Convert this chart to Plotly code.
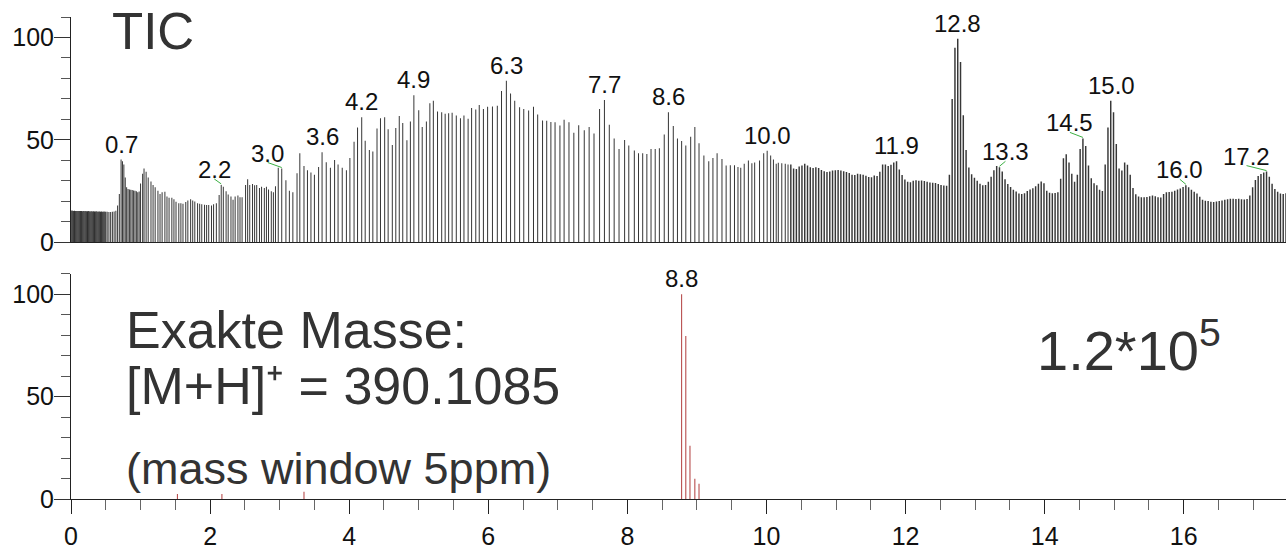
import plotly.graph_objects as go

FONT = "Liberation Sans, Arial, sans-serif"

# ---------------- TIC data (retention time [min], relative intensity [%]) ----------------
tic_t_a = [0.0, 0.0125, 0.025, 0.0375, 0.05, 0.0625, 0.075, 0.0875, 0.1, 0.1125,
           0.125, 0.1375, 0.15, 0.1625, 0.175, 0.1875, 0.2, 0.2125, 0.225, 0.2375,
           0.25, 0.2625, 0.275, 0.2875, 0.3, 0.3125, 0.325, 0.3375, 0.35, 0.3625,
           0.375, 0.3875, 0.4, 0.4125, 0.425, 0.4375, 0.45, 0.4625, 0.475, 0.4875,
           0.5]
tic_i_a = [15.4, 15.5, 15.4, 15.3, 15.4, 15.3, 15.3, 15.2, 15.3, 15.2,
           15.3, 15.2, 15.2, 15.1, 15.2, 15.2, 15.1, 15.2, 15.1, 15.1,
           15.2, 15.1, 15.0, 15.1, 15.1, 15.0, 15.1, 15.0, 15.0, 15.1,
           15.0, 14.9, 15.0, 15.0, 14.9, 15.0, 14.9, 14.9, 15.0, 14.9,
           14.9]

tic_t_b = [0.52, 0.545, 0.57, 0.595, 0.62, 0.645, 0.67, 0.695, 0.72, 0.74,
           0.76, 0.78, 0.80, 0.82, 0.84, 0.86, 0.88, 0.90, 0.92, 0.94,
           0.96, 0.98, 1.00, 1.03, 1.05, 1.08, 1.11, 1.15, 1.18, 1.21,
           1.25, 1.28, 1.31, 1.35, 1.38, 1.41, 1.45, 1.48, 1.51, 1.55,
           1.58, 1.61, 1.65, 1.68, 1.72, 1.75, 1.78, 1.82, 1.85, 1.88,
           1.92, 1.95, 1.98, 2.02, 2.05, 2.09, 2.13, 2.16, 2.19, 2.23,
           2.26, 2.30, 2.33, 2.36, 2.40, 2.43, 2.46, 2.51, 2.54, 2.57,
           2.61, 2.64, 2.67, 2.71, 2.74, 2.78, 2.81, 2.84, 2.88, 2.91,
           2.94]
tic_i_b = [14.9, 14.8, 14.8, 14.9, 15.0, 15.4, 18.0, 23.6, 40.4, 39.6,
           38.0, 31.6, 26.8, 26.0, 25.8, 25.6, 25.5, 25.3, 25.2, 24.9,
           24.4, 24.8, 28.7, 33.5, 36.0, 34.4, 31.6, 29.7, 28.0, 26.8,
           25.2, 23.6, 24.4, 24.7, 22.3, 21.7, 21.7, 21.0, 19.8, 19.1,
           19.1, 18.8, 19.6, 20.4, 21.0, 20.4, 19.9, 19.1, 18.8, 18.5,
           18.3, 18.2, 18.2, 18.0, 18.5, 19.1, 23.1, 28.0, 27.1, 24.9,
           23.3, 22.3, 20.7, 22.3, 22.8, 22.0, 22.0, 28.0, 30.8, 28.0,
           28.4, 27.8, 28.0, 26.5, 27.1, 26.5, 27.1, 25.8, 24.9, 24.4,
           27.4]

tic_t_c = [2.98, 3.03, 3.09, 3.14, 3.19, 3.25, 3.29, 3.35, 3.40, 3.45,
           3.50, 3.56, 3.61, 3.67, 3.73, 3.79, 3.84, 3.90, 3.96, 4.01,
           4.07, 4.12, 4.18, 4.23, 4.29, 4.34, 4.40, 4.45, 4.51, 4.56,
           4.62, 4.67, 4.72, 4.77, 4.83, 4.88, 4.93, 5.00, 5.05, 5.11,
           5.16, 5.21, 5.27, 5.33, 5.38, 5.43, 5.48, 5.54, 5.60, 5.65,
           5.71, 5.76, 5.82, 5.87, 5.93, 5.99, 6.06, 6.13, 6.19, 6.26,
           6.32, 6.38, 6.45, 6.51, 6.58, 6.65, 6.71, 6.78, 6.84, 6.90,
           6.96, 7.03, 7.09, 7.16, 7.23, 7.30, 7.38, 7.45, 7.52, 7.60,
           7.67, 7.74, 7.81, 7.88, 7.96, 8.02, 8.10, 8.16, 8.22, 8.28,
           8.34, 8.40, 8.46, 8.53, 8.59, 8.66, 8.72, 8.78, 8.84, 8.91,
           8.97, 9.03, 9.10, 9.17, 9.23, 9.29, 9.36, 9.42, 9.48, 9.54,
           9.59, 9.63, 9.68, 9.74, 9.79, 9.83, 9.90, 9.96, 10.01, 10.06,
           10.10, 10.14, 10.17, 10.22, 10.27, 10.31]
tic_i_c = [36.4, 36.0, 30.3, 25.2, 24.4, 33.7, 43.5, 37.2, 35.2, 34.0,
           32.9, 36.8, 43.9, 39.1, 36.4, 40.2, 38.0, 36.4, 35.1, 41.1,
           49.1, 56.0, 61.1, 49.6, 45.1, 44.3, 55.5, 60.6, 61.1, 55.2,
           47.5, 55.8, 61.6, 58.2, 49.8, 59.0, 71.8, 64.4, 56.3, 59.0,
           67.9, 69.1, 63.8, 63.5, 62.7, 63.0, 63.2, 61.9, 60.6, 61.9,
           60.3, 65.6, 64.8, 67.0, 65.1, 66.2, 66.3, 66.7, 73.8, 78.9,
           72.6, 69.1, 65.9, 65.1, 64.3, 66.2, 62.4, 59.5, 59.3, 58.7,
           58.6, 57.0, 59.8, 58.6, 53.5, 57.1, 54.7, 56.3, 53.1, 65.1,
           69.5, 57.4, 50.7, 45.5, 49.9, 47.2, 44.8, 43.4, 43.5, 43.1,
           45.5, 45.5, 45.9, 52.6, 63.5, 56.8, 50.7, 49.4, 47.2, 51.5,
           56.3, 48.3, 42.4, 39.6, 41.1, 43.5, 40.7, 37.5, 37.6, 37.6,
           36.7, 36.4, 38.3, 39.9, 38.6, 38.9, 39.9, 43.5, 44.7, 42.4,
           40.4, 38.3, 38.8, 38.6, 38.3, 38.0]

tic_t_d = [10.35, 10.39, 10.43, 10.47, 10.51, 10.55, 10.59, 10.63, 10.67, 10.71,
           10.75, 10.79, 10.83, 10.87, 10.91, 10.95, 10.99, 11.03, 11.07, 11.11,
           11.15, 11.19, 11.23, 11.27, 11.31, 11.35, 11.39, 11.43, 11.47, 11.51,
           11.55, 11.59, 11.63, 11.67, 11.71, 11.75, 11.79, 11.83, 11.87, 11.91,
           11.95, 11.99, 12.03, 12.07, 12.11, 12.15, 12.19, 12.23, 12.27, 12.31,
           12.35, 12.39, 12.43, 12.47, 12.51, 12.55, 12.59, 12.63, 12.67, 12.71,
           12.75, 12.79, 12.83, 12.87, 12.91, 12.95, 12.99, 13.03, 13.07, 13.11,
           13.15, 13.19, 13.23, 13.27, 13.31, 13.35, 13.39, 13.43, 13.47, 13.51,
           13.55, 13.59, 13.63, 13.67, 13.71, 13.75, 13.79, 13.83, 13.87, 13.91,
           13.95, 13.99, 14.03, 14.07, 14.11, 14.15, 14.19, 14.23, 14.27, 14.31,
           14.35, 14.39, 14.43, 14.47, 14.51, 14.55, 14.59, 14.63, 14.67, 14.71,
           14.75, 14.79, 14.83, 14.87, 14.91, 14.95, 14.99, 15.03, 15.07, 15.11,
           15.15, 15.19, 15.23, 15.27, 15.31, 15.35, 15.39, 15.43, 15.47, 15.51,
           15.55, 15.59, 15.63, 15.67, 15.71, 15.75, 15.79, 15.83, 15.87, 15.91,
           15.95, 15.99, 16.03, 16.07, 16.11, 16.15, 16.19, 16.23, 16.27, 16.31,
           16.35, 16.39, 16.43, 16.47, 16.51, 16.55, 16.59, 16.63, 16.67, 16.71,
           16.75, 16.79, 16.83, 16.87, 16.91, 16.95, 16.99, 17.03, 17.07, 17.11,
           17.15, 17.19, 17.23, 17.27, 17.31, 17.35, 17.39, 17.43, 17.47]
tic_i_d = [38.0, 36.0, 35.8, 37.0, 37.5, 38.3, 37.5, 36.6, 36.2, 36.6,
           36.3, 35.3, 34.7, 34.3, 34.6, 35.0, 35.1, 35.3, 35.0, 34.7,
           34.3, 33.8, 33.0, 32.8, 33.4, 33.2, 32.9, 32.5, 31.8, 31.7,
           32.6, 32.3, 34.4, 38.0, 38.0, 37.2, 37.8, 39.0, 39.6, 35.5,
           32.8, 30.6, 29.5, 29.3, 30.0, 30.3, 30.0, 30.1, 29.9, 29.6,
           29.2, 29.0, 28.9, 28.5, 27.9, 27.7, 27.6, 33.0, 70.0, 95.0,
           99.4, 88.0, 62.0, 45.0, 36.5, 33.2, 31.5, 30.0, 28.6, 27.8,
           28.0, 29.5, 32.0, 35.2, 37.2, 36.6, 34.5, 30.8, 28.4, 27.0,
           25.6, 24.8, 23.8, 23.6, 23.9, 25.0, 25.8, 26.4, 27.4, 28.6,
           29.7, 28.8, 25.2, 24.2, 23.9, 24.1, 24.4, 31.0, 41.0, 43.0,
           39.0, 33.5, 29.5, 33.0, 45.5, 50.7, 47.0, 37.5, 31.2, 28.8,
           27.8, 25.6, 25.0, 38.0, 56.0, 69.1, 63.5, 48.0, 36.0, 35.0,
           39.0, 37.8, 33.0, 26.5, 23.4, 22.3, 22.0, 22.0, 22.1, 22.5,
           22.8, 22.4, 22.0, 21.8, 23.5, 24.4, 24.5, 24.7, 25.2, 25.8,
           26.3, 27.0, 27.8, 26.8, 25.6, 24.6, 23.8, 22.2, 20.8, 20.3,
           20.1, 19.8, 19.6, 19.9, 20.1, 20.4, 20.7, 21.0, 21.2, 21.2,
           21.1, 21.2, 21.0, 20.9, 21.1, 22.8, 26.8, 30.4, 32.4, 33.3,
           34.0, 34.5, 32.0, 28.6, 26.0, 24.6, 23.8, 23.6, 23.9]

# labelled TIC peaks
tic_label_t = [0.72, 2.16, 3.03, 3.61, 4.18, 4.93, 6.26, 7.67, 8.59, 10.01,
               11.87, 12.75, 13.35, 14.55, 14.95, 16.03, 17.19]
tic_label_text = ["0.7", "2.2", "3.0", "3.6", "4.2", "4.9", "6.3", "7.7", "8.6", "10.0",
                  "11.9", "12.8", "13.3", "14.5", "15.0", "16.0", "17.2"]

# ---------------- EIC data (m/z 390.1085, 5 ppm) ----------------
eic_t = [1.53, 2.17, 3.35, 8.78, 8.84, 8.90, 8.97, 9.03]
eic_i = [2.4, 2.4, 3.5, 100.0, 79.6, 26.0, 9.9, 7.5]
eic_label_t = [8.78]
eic_label_text = ["8.8"]

# ---------------- styles ----------------
label_xshift = [0, -7, -14, 0, 0, 0, 0, 0, 0, 0, 0, 0, 6, -13, 1, -6, -20]
label_leader = [0, 1, 1, 0, 0, 0, 0, 0, 0, 0, 0, 0, 1, 1, 0, 1, 1]
BAR_W = 0.0145        # ~1 px sticks
BAR_W_DENSE = 0.021   # late, densely sampled part looks heavier
X_MAX = 17.47

tic_t = tic_t_a + tic_t_b + tic_t_c + tic_t_d
tic_i = tic_i_a + tic_i_b + tic_i_c + tic_i_d


def lookup(ts, ys, t):
    k = min(range(len(ts)), key=lambda j: abs(ts[j] - t))
    return ys[k]


STICK = "rgba(20,20,20,0.85)"
fig = go.Figure()
fig.add_trace(go.Bar(x=tic_t_a + tic_t_b + tic_t_c, y=tic_i_a + tic_i_b + tic_i_c,
                     width=BAR_W, xaxis="x", yaxis="y",
                     marker=dict(color=STICK, line=dict(width=0)),
                     showlegend=False, hoverinfo="x+y"))
fig.add_trace(go.Bar(x=tic_t_d, y=tic_i_d, width=BAR_W_DENSE, xaxis="x", yaxis="y",
                     marker=dict(color=STICK, line=dict(width=0)),
                     showlegend=False, hoverinfo="x+y"))
fig.add_trace(go.Bar(x=eic_t, y=eic_i, width=BAR_W, xaxis="x2", yaxis="y2",
                     marker=dict(color="rgba(165,28,28,0.85)", line=dict(width=0)),
                     showlegend=False, hoverinfo="x+y"))

annotations = []
shapes = []
lab_font = dict(size=24, color="#111", family=FONT)
for t, txt, dx, lead in zip(tic_label_t, tic_label_text, label_xshift, label_leader):
    h = lookup(tic_t, tic_i, t)
    annotations.append(dict(x=t, y=h, xref="x", yref="y", text=txt, showarrow=False,
                            xanchor="center", yanchor="bottom", xshift=dx, yshift=0,
                            font=lab_font))
    if lead:
        shapes.append(dict(type="line", xref="x", yref="y", xsizemode="pixel",
                           ysizemode="pixel", xanchor=t, yanchor=h,
                           x0=dx, y0=6, x1=0, y1=1,
                           line=dict(color="#3cb043", width=1)))
for t, txt in zip(eic_label_t, eic_label_text):
    h = lookup(eic_t, eic_i, t)
    annotations.append(dict(x=t, y=h, xref="x2", yref="y2", text=txt, showarrow=False,
                            xanchor="center", yanchor="bottom", yshift=0, font=lab_font))

big = "#333333"
annotations += [
    dict(x=0.0321, y=0.9704, xref="paper", yref="paper", text="TIC", showarrow=False,
         xanchor="left", yanchor="middle", font=dict(size=51, color=big, family=FONT)),
    dict(x=0.0436, y=0.3502, xref="paper", yref="paper", text="Exakte Masse:",
         showarrow=False, xanchor="left", yanchor="middle",
         font=dict(size=52, color=big, family=FONT)),
    dict(x=0.0436, y=0.2345, xref="paper", yref="paper",
         text="[M+H]\u207a = 390.1085", showarrow=False, xanchor="left",
         yanchor="middle", font=dict(size=52, color=big, family=FONT)),
    dict(x=0.0436, y=0.0640, xref="paper", yref="paper", text="(mass window 5ppm)",
         showarrow=False, xanchor="left", yanchor="middle",
         font=dict(size=45, color=big, family=FONT)),
    dict(x=0.7935, y=0.3163, xref="paper", yref="paper", text="1.2*10<sup>5</sup>",
         showarrow=False, xanchor="left", yanchor="middle",
         font=dict(size=56, color=big, family=FONT)),
]

axis_common = dict(range=[0, X_MAX], showgrid=False, zeroline=False, showline=True,
                   linecolor="#222", linewidth=1)
yaxis_common = dict(range=[0, 110], showgrid=False, zeroline=False, showline=True,
                    linecolor="#222", linewidth=1, ticks="outside", ticklen=16,
                    tickwidth=1, tickcolor="#333", tick0=0, dtick=50,
                    ticklabelstandoff=-5,
                    tickfont=dict(size=25, color="#111", family=FONT),
                    minor=dict(dtick=10, ticks="outside", ticklen=9, tickcolor="#555",
                               tickwidth=1))

fig.update_layout(
    width=1286, height=550,
    margin=dict(l=71, r=0, t=17, b=43),
    paper_bgcolor="white", plot_bgcolor="white",
    barmode="overlay",
    font=dict(family=FONT, color="#111"),
    xaxis=dict(**axis_common, domain=[0, 1], anchor="y", ticks="", showticklabels=False),
    yaxis=dict(**yaxis_common, domain=[0.5327, 1], anchor="x"),
    xaxis2=dict(**axis_common, domain=[0, 1], anchor="y2", ticks="outside", ticklen=14,
                tickwidth=1, tickcolor="#222", tick0=0, dtick=2,
                ticklabelstandoff=1,
                tickfont=dict(size=25, color="#111", family=FONT),
                minor=dict(dtick=0.5, ticks="outside", ticklen=10, tickcolor="#666",
                           tickwidth=1)),
    yaxis2=dict(**yaxis_common, domain=[0, 0.4673], anchor="x2"),
    annotations=annotations,
    shapes=shapes,
)

fig.write_html("out.html")
